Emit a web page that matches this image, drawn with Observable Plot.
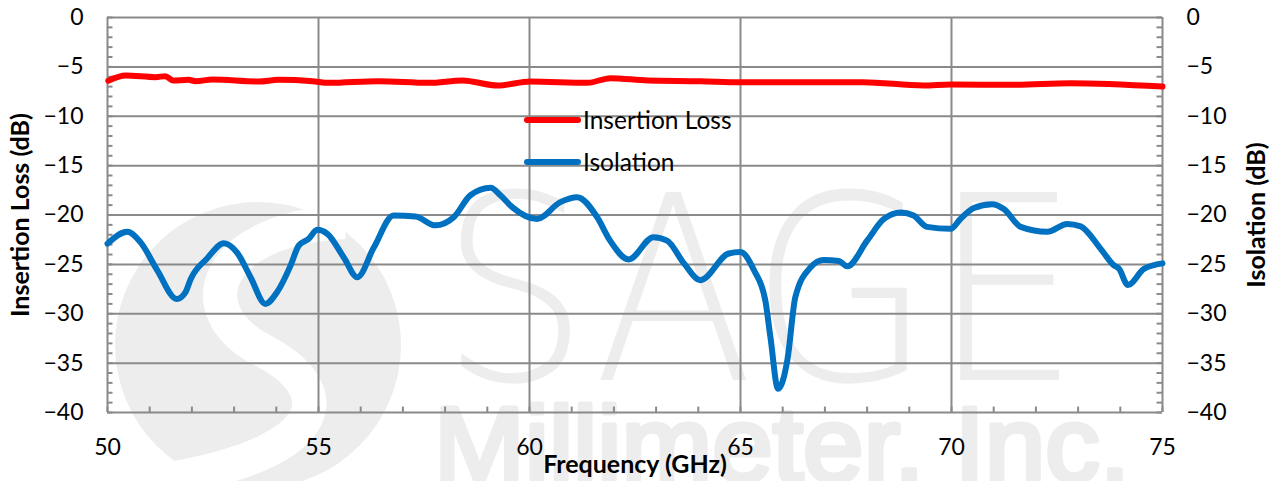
<!DOCTYPE html>
<html>
<head>
<meta charset="utf-8">
<script src="https://cdn.jsdelivr.net/npm/d3@7"></script>
<script src="https://cdn.jsdelivr.net/npm/@observablehq/plot@0.6"></script>
<style>
  html, body { margin: 0; padding: 0; background: #fff; }
  #wrap { position: relative; width: 1273px; height: 481px; overflow: hidden; font-family: Lato, "Open Sans", sans-serif; }
  #wm, #chart, #legend { position: absolute; left: 0; top: 0; }
  #chart svg { background: transparent !important; }
  #chart g[aria-label$="axis label"] { font-weight: bold !important; font-size: 25px !important; }
  #chart g[aria-label$="axis label"] text { font-weight: bold !important; font-size: 25px !important; }
  #legend { width: 1273px; height: 481px; pointer-events: none; }
</style>
</head>
<body>
<div id="wrap">
  <svg id="wm" width="1273" height="481">
    <circle cx="258" cy="345" r="143" fill="#ededed"></circle>
    <path d="M345 222 C 215 228, 185 310, 262 350 S 330 450, 175 478" fill="none" stroke="#fff" stroke-width="34"></path>
    <text x="440" y="380" font-family="DejaVu Sans" font-weight="200" font-size="258" fill="#ededed" textLength="640" lengthAdjust="spacingAndGlyphs">SAGE</text>
    <text x="434" y="481" font-family="Liberation Sans" font-size="106" fill="#ededed" stroke="#ededed" stroke-width="5" stroke-linejoin="round" textLength="696" lengthAdjust="spacingAndGlyphs">Millimeter, Inc.</text>
  </svg>
  <div id="chart"></div>
  <svg id="legend" width="1273" height="481"></svg>
</div>
<script>
// Insertion Loss (red)
const ilFreq = [50.02, 50.43, 51.14, 51.37, 51.56, 51.92, 52.09, 52.49, 53.58, 54.05, 54.86, 55.24, 56.42, 57.61, 58.41, 59.25, 60.02, 61.37, 61.92, 62.8, 64.05, 65.0, 67.9, 69.34, 69.98, 71.47, 72.82, 75.0];
const ilDb   = [-6.4, -5.87, -6.04, -5.94, -6.38, -6.31, -6.45, -6.28, -6.48, -6.31, -6.45, -6.62, -6.45, -6.62, -6.38, -6.89, -6.48, -6.62, -6.14, -6.38, -6.45, -6.55, -6.55, -6.89, -6.78, -6.82, -6.65, -6.99];

// Isolation (blue)
const isoFreq = [50.0, 50.47, 50.78, 51.18, 51.64, 51.85, 51.97, 52.36, 52.76, 53.07, 53.39, 53.74, 54.02, 54.34, 54.53, 54.77, 54.97, 55.21, 55.6, 55.92, 56.31, 56.78, 57.3, 57.77, 58.21, 58.6, 59.08, 59.31, 59.59, 60.18, 60.73, 61.13, 61.6, 61.91, 62.35, 62.94, 63.26, 63.66, 64.05, 64.72, 65.0, 65.32, 65.59, 65.71, 65.89, 66.11, 66.3, 66.66, 66.97, 67.33, 67.53, 68.0, 68.4, 68.8, 69.1, 69.42, 69.98, 70.21, 70.53, 70.96, 71.24, 71.64, 72.27, 72.74, 73.06, 73.53, 73.85, 73.97, 74.18, 74.56, 75.0];
const isoDb   = [-22.9, -21.7, -22.75, -25.6, -28.5, -27.8, -26.5, -24.4, -22.85, -23.8, -26.3, -29.0, -27.8, -25.1, -23.1, -22.4, -21.5, -21.9, -24.3, -26.3, -23.3, -20.05, -20.15, -21.05, -20.2, -18.0, -17.25, -18.0, -19.2, -20.4, -18.7, -18.2, -20.2, -22.6, -24.5, -22.25, -22.6, -24.9, -26.6, -23.9, -23.75, -25.6, -28.7, -32.4, -37.6, -34.7, -28.3, -25.3, -24.55, -24.65, -25.2, -22.6, -20.4, -19.75, -20.05, -21.2, -21.4, -20.4, -19.3, -18.9, -19.4, -21.2, -21.7, -20.9, -21.15, -23.4, -25.1, -25.45, -27.1, -25.45, -24.9];

const xTicks = [50, 55, 60, 65, 70, 75];
const yTicks = [0, -5, -10, -15, -20, -25, -30, -35, -40];
const xMinor = d3.range(50, 76, 1);
const yMinor = d3.range(-40, 1, 1);

const seriesNames = ["Insertion Loss", "Isolation"];
const seriesColors = ["#ff0000", "#0070c0"];

const ilData = ilFreq.map((f, i) => ({f, v: ilDb[i]}));
const isoData = isoFreq.map((f, i) => ({f, v: isoDb[i]}));

const grid = "#8a8a8a";

const chart = Plot.plot({
  width: 1273,
  height: 481,
  marginLeft: 107,
  marginRight: 111,
  marginTop: 17,
  marginBottom: 69,
  style: {background: "transparent", fontFamily: "Lato, 'Open Sans', sans-serif", fontSize: "23px", color: "#000"},
  x: {domain: [50, 75]},
  y: {domain: [-40, 0]},
  marks: [
    Plot.ruleX(xTicks, {x: d => d, stroke: grid, strokeWidth: 2, strokeOpacity: 1}),
    Plot.ruleY(yTicks, {y: d => d, stroke: grid, strokeWidth: 2, strokeOpacity: 1}),
    Plot.ruleX(xMinor, {x: d => d, y1: -40, y2: -39.45, stroke: grid, strokeWidth: 2}),
    Plot.ruleY(yMinor, {y: d => d, x1: 50, x2: 50.13, stroke: grid, strokeWidth: 2}),
    Plot.ruleY(yMinor, {y: d => d, x1: 74.87, x2: 75, stroke: grid, strokeWidth: 2}),
    Plot.axisX({ticks: xTicks, tickSize: 0, tickPadding: 26, fontSize: 23, label: "Frequency (GHz)", labelAnchor: "center", labelArrow: "none", labelOffset: 60}),
    Plot.axisY({anchor: "left", ticks: yTicks, tickSize: 0, tickPadding: 24, fontSize: 23, label: "Insertion Loss (dB)", labelAnchor: "center", labelArrow: "none", labelOffset: 96}),
    Plot.axisY({anchor: "right", ticks: yTicks, tickSize: 0, tickPadding: 24, fontSize: 23, label: "Isolation (dB)", labelAnchor: "center", labelArrow: "none", labelOffset: 102}),
    Plot.line(isoData, {x: "f", y: "v", stroke: seriesColors[1], strokeWidth: 6, curve: "monotone-x", strokeLinecap: "round", strokeLinejoin: "round"}),
    Plot.line(ilData, {x: "f", y: "v", stroke: seriesColors[0], strokeWidth: 6, curve: "monotone-x", strokeLinecap: "round", strokeLinejoin: "round"})
  ]
});
document.getElementById("chart").appendChild(chart);

// Legend
const lg = d3.select("#legend");
seriesNames.forEach((name, i) => {
  const y = 120 + i * 42;
  lg.append("line").attr("x1", 527).attr("x2", 578).attr("y1", y).attr("y2", y)
    .attr("stroke", seriesColors[i]).attr("stroke-width", 6).attr("stroke-linecap", "round");
  lg.append("text").attr("x", 583).attr("y", y).attr("dy", "0.35em")
    .attr("font-family", "Lato, 'Open Sans', sans-serif").attr("font-size", 24.5).attr("fill", "#000").text(name);
});
</script>
</body>
</html>
